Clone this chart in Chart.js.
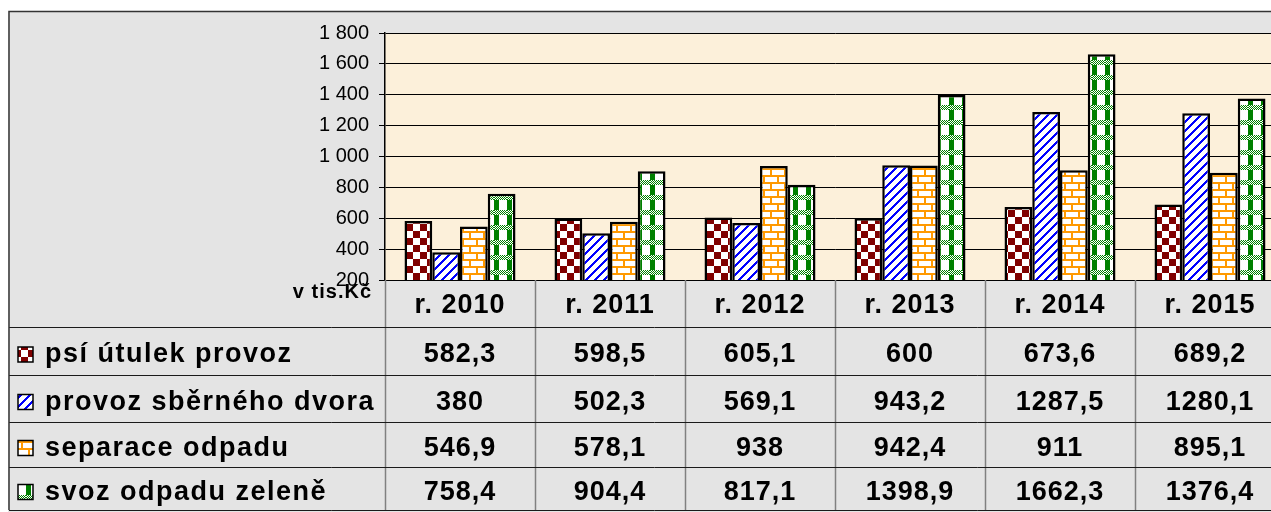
<!DOCTYPE html>
<html>
<head>
<meta charset="utf-8">
<script src="https://cdn.jsdelivr.net/npm/chart.js@4.4.1/dist/chart.umd.min.js"></script>
<style>
  html, body { margin: 0; padding: 0; background: #fff; overflow: hidden; }
  #wrap { position: absolute; left: 0; top: 0; width: 1300px; height: 512px; }
</style>
</head>
<body>
<div id="wrap"><canvas id="costs" width="1300" height="512"></canvas></div>
<script>
const years = ['r. 2010', 'r. 2011', 'r. 2012', 'r. 2013', 'r. 2014', 'r. 2015'];
const seriesNames = ['psí útulek provoz', 'provoz sběrného dvora', 'separace odpadu', 'svoz odpadu zeleně'];
const psiUtulek = [582.3, 598.5, 605.1, 600, 673.6, 689.2];
const sbernyDvur = [380, 502.3, 569.1, 943.2, 1287.5, 1280.1];
const separace = [546.9, 578.1, 938, 942.4, 911, 895.1];
const svozZelene = [758.4, 904.4, 817.1, 1398.9, 1662.3, 1376.4];
const yMin = 200;
const yMax = 1800;
const yStep = 200;
const unitLabel = 'v tis.Kč';

const FONT = '"Liberation Sans", Arial, sans-serif';

function makeTile(w, h, draw) {
    const c = document.createElement('canvas');
    c.width = w;
    c.height = h;
    const g = c.getContext('2d');
    g.fillStyle = '#ffffff';
    g.fillRect(0, 0, w, h);
    draw(g);
    return c;
}

// checkerboard, dark red
const checkTile = makeTile(14, 14, g => {
    g.fillStyle = '#800000';
    g.fillRect(0, 0, 7, 7);
    g.fillRect(7, 7, 7, 7);
});

// wide upward diagonal, blue
const diagTile = makeTile(9, 9, g => {
    g.fillStyle = '#0000ff';
    for (let y = 0; y < 9; y++) {
        for (let x = 0; x < 9; x++) {
            if ((x + y) % 9 < 3) g.fillRect(x, y, 1, 1);
        }
    }
});

// bricks, orange
const brickTile = makeTile(14, 14, g => {
    g.fillStyle = '#ff9900';
    g.fillRect(0, 0, 14, 2);
    g.fillRect(0, 7, 14, 2);
    g.fillRect(0, 0, 2, 7);
    g.fillRect(7, 7, 2, 7);
});

// plaid, green
const plaidTile = makeTile(13, 15, g => {
    g.fillStyle = '#008000';
    g.fillRect(0, 0, 5, 15);
    for (let y = 0; y < 5; y++) {
        for (let x = 5; x < 13; x++) {
            if ((x + y) % 2 === 0) g.fillRect(x, y, 1, 1);
        }
    }
    g.fillStyle = '#ffffff';
    for (let y = 0; y < 5; y++) {
        for (let x = 0; x < 5; x++) {
            if ((x + y) % 2 === 1) g.fillRect(x, y, 1, 1);
        }
    }
});

const ctx = document.getElementById('costs');
const c2d = ctx.getContext('2d');
const fills = [checkTile, diagTile, brickTile, plaidTile].map(t => c2d.createPattern(t, 'repeat'));

function fmtTick(v) {
    return String(v).replace(/\B(?=(\d{3})+(?!\d))/g, ' ');
}

function fmtVal(v) {
    return String(v).replace('.', ',');
}

const backdrop = {
    id: 'backdrop',
    beforeDraw(chart) {
        const g = chart.ctx;
        const a = chart.chartArea;
        g.save();
        g.fillStyle = '#ffffff';
        g.fillRect(0, 0, chart.width, chart.height);
        g.fillStyle = '#e4e4e4';
        g.fillRect(8, 11, chart.width, chart.height);
        g.fillStyle = '#fcf0da';
        g.fillRect(a.left, a.top, a.right - a.left, a.bottom - a.top);
        g.restore();
    }
};

const dataTable = {
    id: 'dataTable',
    afterDraw(chart) {
        const g = chart.ctx;
        const a = chart.chartArea;
        const x = chart.scales.x;
        const half = (x.getPixelForValue(1) - x.getPixelForValue(0)) / 2;
        const headTop = a.bottom;
        const rowLines = [327, 375, 422, 467, 510];
        const bottom = 510;

        g.save();
        // vertical lines of the table
        g.strokeStyle = '#808080';
        g.lineWidth = 1.5;
        g.beginPath();
        for (let i = 0; i <= years.length; i++) {
            const px = Math.round(x.getPixelForValue(0) - half + i * 2 * half) + 0.5;
            g.moveTo(px, headTop);
            g.lineTo(px, bottom);
        }
        g.stroke();

        // horizontal lines
        g.strokeStyle = '#1a1a1a';
        g.lineWidth = 1;
        g.beginPath();
        rowLines.forEach(y => {
            g.moveTo(9, y + 0.5);
            g.lineTo(chart.width, y + 0.5);
        });
        g.stroke();

        // outer border
        g.strokeStyle = '#333333';
        g.lineWidth = 1.5;
        g.beginPath();
        g.moveTo(9, bottom);
        g.lineTo(9, 11.5);
        g.lineTo(chart.width, 11.5);
        g.stroke();

        g.fillStyle = '#000000';
        g.textBaseline = 'middle';
        g.textAlign = 'center';
        g.font = 'bold 27px ' + FONT;
        g.letterSpacing = '1px';

        // header row
        years.forEach((lab, i) => {
            g.fillText(lab, x.getPixelForValue(i), (headTop + rowLines[0]) / 2 + 2);
        });

        // value rows
        chart.data.datasets.forEach((ds, r) => {
            const yc = (rowLines[r] + rowLines[r + 1]) / 2 + 4;
            g.textAlign = 'center';
            g.letterSpacing = '1px';
            ds.data.forEach((v, i) => {
                g.fillText(fmtVal(v), x.getPixelForValue(i), yc);
            });
            g.textAlign = 'left';
            g.letterSpacing = '1.5px';
            g.fillText(ds.label, 45, yc);
            // legend key
            g.fillStyle = fills[r];
            g.fillRect(18, yc - 8, 15, 15);
            g.strokeStyle = '#000000';
            g.lineWidth = 1.5;
            g.strokeRect(18, yc - 8, 15, 15);
            g.fillStyle = '#000000';
        });

        // unit label
        g.font = 'bold 20px ' + FONT;
        g.letterSpacing = '1px';
        g.textAlign = 'right';
        g.textBaseline = 'alphabetic';
        g.fillText(unitLabel, 372, 298);
        g.restore();
    }
};

new Chart(ctx, {
    type: 'bar',
    data: {
        labels: years,
        datasets: [
            { label: seriesNames[0], data: psiUtulek, backgroundColor: fills[0] },
            { label: seriesNames[1], data: sbernyDvur, backgroundColor: fills[1] },
            { label: seriesNames[2], data: separace, backgroundColor: fills[2] },
            { label: seriesNames[3], data: svozZelene, backgroundColor: fills[3] }
        ].map(d => Object.assign(d, {
            borderColor: '#000000',
            borderWidth: 2.5,
            categoryPercentage: 0.74,
            barPercentage: 1.0
        }))
    },
    options: {
        responsive: false,
        animation: false,
        layout: {
            padding: { top: 33, right: 15, bottom: 232, left: 0 }
        },
        scales: {
            x: {
                display: false
            },
            y: {
                min: yMin,
                max: yMax,
                afterFit: function(axis) {
                    axis.width = 385;
                },
                border: { display: true, color: '#000000', width: 1.5 },
                grid: {
                    color: '#000000',
                    lineWidth: 1,
                    tickLength: 6,
                    drawTicks: true
                },
                ticks: {
                    stepSize: yStep,
                    padding: 10,
                    color: '#000000',
                    font: { family: FONT, size: 20 },
                    callback: function(value) {
                        return fmtTick(value);
                    }
                }
            }
        },
        plugins: {
            legend: { display: false },
            tooltip: { enabled: false }
        }
    },
    plugins: [backdrop, dataTable]
});
</script>
</body>
</html>
